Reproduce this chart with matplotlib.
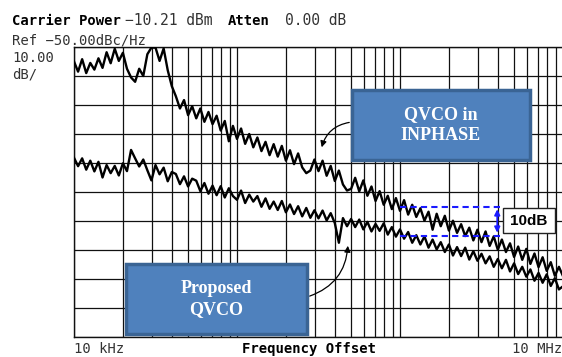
import matplotlib
matplotlib.use("Agg")
import matplotlib.pyplot as plt
import numpy as np
from matplotlib.patches import Rectangle
from matplotlib.ticker import LogLocator, NullFormatter

# phase noise traces, dBc/Hz, log spaced 10 kHz .. 10 MHz
inphase_db = [
    -55.0, -58.5, -54.2, -59.0, -55.5, -57.8, -53.9, -57.2, -51.8, -55.6,
    -50.6, -54.8, -52.0, -57.5, -60.5, -62.0, -57.5, -60.0, -52.5, -50.2,
    -50.2, -54.8, -50.5, -58.0, -63.5, -67.0, -71.2, -68.3, -73.5, -70.4,
    -74.6, -71.2, -75.8, -72.4, -76.6, -73.7, -78.8, -75.5, -82.5, -77.2,
    -81.7, -78.1, -83.4, -80.0, -84.6, -81.2, -85.9, -82.7, -87.3, -83.5,
    -87.8, -84.1, -89.2, -85.6, -90.4, -86.7, -91.5, -93.5, -92.6, -88.8,
    -92.8, -89.2, -94.4, -91.0, -96.2, -92.6, -97.4, -99.5, -98.9, -95.1,
    -99.8, -96.0, -101.3, -98.1, -103.1, -99.7, -104.4, -101.3, -105.9, -102.1,
    -106.5, -102.8, -107.8, -104.4, -108.6, -105.6, -109.9, -106.8, -113.0, -107.5,
    -111.8, -108.2, -113.3, -109.9, -114.1, -111.1, -115.2, -112.3, -116.7, -113.0,
    -117.3, -113.6, -118.6, -115.3, -119.9, -116.4, -120.7, -117.7, -122.4, -118.8,
    -123.4, -119.6, -124.8, -121.2, -125.9, -122.5, -127.2, -124.2, -128.9, -125.8,
    -129.0,
]
proposed_db = [
    -88.2, -91.1, -88.4, -92.3, -89.2, -92.9, -89.6, -95.0, -90.7, -93.5,
    -91.0, -94.3, -90.1, -92.8, -85.5, -88.4, -91.2, -88.8, -92.5, -96.0,
    -90.7, -93.9, -91.6, -96.3, -93.1, -93.8, -97.3, -94.6, -98.1, -95.4,
    -96.1, -99.7, -96.9, -100.6, -97.8, -101.1, -98.0, -101.9, -98.7, -101.4,
    -102.7, -99.5, -103.8, -100.9, -103.3, -101.4, -105.1, -102.2, -105.8, -103.3,
    -106.2, -103.1, -107.0, -104.3, -107.6, -104.9, -108.4, -105.5, -108.9, -106.3,
    -109.1, -106.4, -109.8, -107.3, -110.7, -117.5, -109.0, -111.8, -109.3, -112.1,
    -109.5, -112.9, -110.3, -113.6, -111.0, -113.4, -110.8, -114.7, -112.1, -115.4,
    -112.9, -116.1, -113.8, -117.5, -114.9, -118.1, -115.3, -119.2, -116.4, -119.8,
    -117.3, -120.7, -118.1, -121.9, -119.0, -122.1, -119.2, -123.3, -120.4, -123.7,
    -121.3, -124.6, -122.2, -125.8, -123.1, -126.3, -123.4, -127.4, -124.6, -128.3,
    -125.8, -129.2, -126.7, -130.6, -127.9, -131.3, -128.4, -132.4, -129.7, -133.6,
    -132.5,
]
freq = np.logspace(4, 7, len(inphase_db))

# 10 dB bracket
bracket_f = [1e6, 4.3e6]
bracket_db = [-105, -115]
bracket_arrow_f = 3.95e6

W, H = 562, 357


def fx(px):
    return px / W


def fy(py):
    return 1 - py / H


fig = plt.figure(figsize=(W / 100, H / 100), dpi=100)
ax = fig.add_axes([fx(74), fy(337), 489 / W, 290 / H])

ax.set_xscale("log")
ax.set_xlim(1e4, 1e7)
ax.set_ylim(-150, -50)
ax.set_yticks(np.arange(-150, -49, 10))
ax.xaxis.set_major_locator(LogLocator(base=10))
ax.xaxis.set_minor_locator(LogLocator(base=10, subs=np.arange(2, 10)))
ax.xaxis.set_minor_formatter(NullFormatter())
ax.grid(which="both", color="#111111", lw=0.9)
ax.tick_params(which="both", length=0, labelbottom=False, labelleft=False)
for s in ax.spines.values():
    s.set_color("#111111")
    s.set_linewidth(1.0)

ax.plot(freq, inphase_db, color="black", lw=1.7, zorder=3)
ax.plot(freq, proposed_db, color="black", lw=1.7, zorder=3)

blue = "#1a1aff"
for lvl in bracket_db:
    ax.plot(bracket_f, [lvl, lvl], ls=(0, (3, 2)), color=blue, lw=1.5, zorder=4)
ax.annotate("", xy=(bracket_arrow_f, bracket_db[0]), xytext=(bracket_arrow_f, bracket_db[1]),
            arrowprops=dict(arrowstyle="<|-|>", color=blue, lw=1.3, mutation_scale=8), zorder=4)

# header text
mono = "DejaVu Sans Mono"
fig.text(fx(12), fy(25), "Carrier Power", family=mono, weight="bold", fontsize=10)
fig.text(fx(125), fy(25), "\u221210.21 dBm", family=mono, fontsize=10.5, color="#333333")
fig.text(fx(228), fy(25), "Atten", family=mono, weight="bold", fontsize=10)
fig.text(fx(285), fy(25), "0.00 dB", family=mono, fontsize=10.5, color="#333333")
fig.text(fx(12), fy(44), "Ref \u221250.00dBc/Hz", family=mono, fontsize=10, color="#333333")
fig.text(fx(12), fy(62), "10.00", family=mono, fontsize=10, color="#333333")
fig.text(fx(12), fy(78), "dB/", family=mono, fontsize=10, color="#333333")
fig.text(fx(74), fy(353), "10 kHz", family=mono, fontsize=10, color="#333333")
fig.text(fx(309), fy(353), "Frequency Offset", family=mono, weight="bold", fontsize=10, ha="center")
fig.text(fx(512), fy(353), "10 MHz", family=mono, fontsize=10, color="#333333")

# callout boxes
boxes = [((352, 90, 530, 160), "QVCO in\nINPHASE"), ((126, 264, 307, 334), "Proposed\nQVCO")]
for (x0, y0, x1, y1), label in boxes:
    fig.add_artist(Rectangle((fx(x0), fy(y1)), fx(x1) - fx(x0), fy(y0) - fy(y1),
                             transform=fig.transFigure, facecolor="#4f81bd",
                             edgecolor="#3a6494", lw=2.5, zorder=5))
    fig.text(fx((x0 + x1) / 2), fy((y0 + y1) / 2), label, ha="center", va="center",
             family="Liberation Serif", weight="bold", fontsize=13, color="white",
             linespacing=1.3, zorder=6)

ax.annotate("", xy=(fx(321), fy(150)), xytext=(fx(352), fy(122)),
            xycoords="figure fraction", textcoords="figure fraction",
            arrowprops=dict(arrowstyle="-|>", color="black", lw=0.9,
                            connectionstyle="arc3,rad=0.35", mutation_scale=9), zorder=6)
ax.annotate("", xy=(fx(348), fy(243)), xytext=(fx(307), fy(297)),
            xycoords="figure fraction", textcoords="figure fraction",
            arrowprops=dict(arrowstyle="-|>", color="black", lw=0.9,
                            connectionstyle="arc3,rad=0.35", mutation_scale=9), zorder=6)

# 10dB label
fig.add_artist(Rectangle((fx(503), fy(233)), fx(555) - fx(503), fy(208) - fy(233),
                         transform=fig.transFigure, facecolor="white",
                         edgecolor="#222222", lw=1.0, zorder=5))
fig.text(fx(529), fy(221), "10dB", ha="center", va="center", family="Liberation Sans",
         weight="bold", fontsize=11, zorder=6)

fig.savefig("out.png", dpi=100)
